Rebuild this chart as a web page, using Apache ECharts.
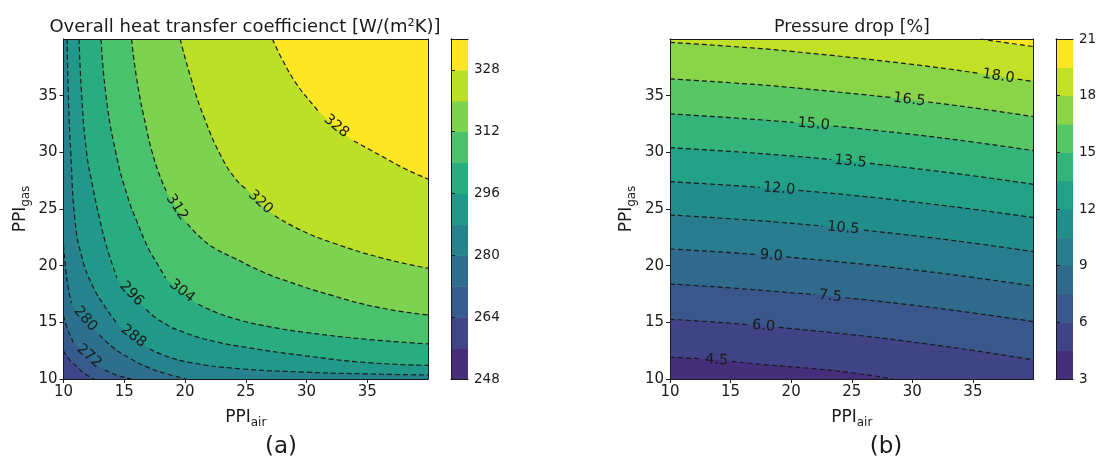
<!DOCTYPE html>
<html>
<head>
<meta charset="utf-8">
<script src="https://cdn.jsdelivr.net/npm/echarts@6/dist/echarts.min.js"></script>
<style>
html, body { margin: 0; padding: 0; background: #fff; }
#main { width: 1106px; height: 460px; }
</style>
</head>
<body>
<div id="main"></div>
<script>
// axis ticks (PPI) shared by both panels
var ppiTicks = [10, 15, 20, 25, 30, 35];

// (a) overall heat transfer coefficient: colour band edges, colourbar ticks, contour levels
var uBands = [248, 256, 264, 272, 280, 288, 296, 304, 312, 320, 328, 336];
var uTicks = [248, 264, 280, 296, 312, 328];
var uLevels = [264, 272, 280, 288, 296, 304, 312, 320, 328];
// contour lines as [PPI_air, PPI_gas]; null = gap where the label sits
var uCurves = [
    [[10, 12.5], [10.5, 11.7], [11.1, 11.1], [11.7, 10.5], [12.5, 10]],
    [[10, 15.6], [10.3, 14.5], [10.8, 13.25], null, [13.4, 10.8], [14.5, 10.3], [15.6, 10]],
    [[10, 21.8], [10.2, 19.5], [10.4, 18], [10.65, 16.7], null, [12.95, 13.9], [14, 12.85], [15.5, 11.8], [17, 11.0], [18.5, 10.45], [20.1, 10]],
    [[10.3, 40], [10.4, 35], [10.6, 30], [10.95, 24], [11.5, 20.8], [12.4, 18.2], [13.4, 16.4], [14.4, 14.9], null, [17.1, 12.65], [18.5, 12.0], [20.5, 11.45], [24, 10.95], [30, 10.6], [35, 10.45], [40, 10.35]],
    [[11.28, 40], [11.5, 35], [11.9, 30], [12.4, 27], [13.0, 24], [13.6, 21.5], [14.4, 18.9], null, [16.8, 16.15], [18, 15.1], [20.14, 14.03], [22.5, 13.3], [25, 12.8], [29.5, 12.1], [35, 11.45], [40, 11.2]],
    [[13.09, 40], [13.5, 35], [14.3, 30], [15.3, 26], [16.0, 24], [17.0, 21.5], [17.7, 20.2], [18.4, 18.9], null, [21.1, 16.6], [22.5, 15.9], [24.5, 15.2], [27, 14.6], [30, 14.1], [35, 13.5], [40, 13.1]],
    [[15.6, 40], [16.1, 36], [16.85, 32], [17.3, 30], [17.9, 28], [18.45, 26.6], null, [20.2, 23.7], [21.2, 22.56], [22.5, 21.5], [24, 20.7], [26.5, 19.4], [28.5, 18.6], [32, 17.4], [36, 16.3], [40, 15.65]],
    [[19.6, 40], [20.5, 36.5], [21.6, 33], [23, 29.6], [24.2, 27.6], [25.0, 26.8], null, [27.4, 24.4], [29.5, 23.15], [32.2, 22.0], [36.3, 20.65], [40, 19.77]],
    [[27.2, 40], [28.0, 38.2], [29.2, 36.0], [30.6, 34.1], [31.0, 33.6], null, [33.9, 31.0], [36.3, 29.6], [38.2, 28.5], [40, 27.65]]
];

// (b) pressure drop
var dpBands = [3, 4.5, 6, 7.5, 9, 10.5, 12, 13.5, 15, 16.5, 18, 19.5, 21];
var dpTicks = [3, 6, 9, 12, 15, 18, 21];
var dpLevels = [4.5, 6, 7.5, 9, 10.5, 12, 13.5, 15, 16.5, 18, 19.5];
var dpCurves = [
    [[10, 11.92], [12.6, 11.78], null, [15.1, 11.55], [18, 11.25], [21.56, 10.94], [25, 10.55], [28.4, 10]],
    [[10, 15.27], [13, 15.07], [16.45, 14.79], null, [19, 14.55], [25, 13.91], [30, 13.26], [35, 12.52], [40, 11.68]],
    [[10, 18.38], [15, 18.04], [21.95, 17.44], null, [24.5, 17.17], [30, 16.52], [35, 15.83], [40, 15.06]],
    [[10, 21.47], [14, 21.22], [17.1, 20.98], null, [19.6, 20.77], [25, 20.23], [30, 19.64], [35, 18.96], [40, 18.2]],
    [[10, 24.47], [15, 24.14], [19, 23.83], [22.6, 23.49], null, [26, 23.13], [30, 22.66], [35, 21.99], [40, 21.24]],
    [[10, 27.41], [14, 27.16], [17.4, 26.91], null, [20.6, 26.64], [25, 26.21], [30, 25.63], [35, 24.98], [40, 24.24]],
    [[10, 30.41], [15, 30.08], [20, 29.68], [23.3, 29.36], null, [26.5, 29.02], [30, 28.6], [35, 27.93], [40, 27.18]],
    [[10, 33.39], [15, 33.06], [20.2, 32.64], null, [23.5, 32.32], [30, 31.58], [35, 30.91], [40, 30.15]],
    [[10, 36.48], [15, 36.14], [20, 35.72], [28.2, 34.84], null, [31.3, 34.44], [35, 33.93], [40, 33.15]],
    [[10, 39.7], [15, 39.35], [20, 38.91], [30, 37.76], [35.5, 36.97], null, [38.7, 36.46], [40, 36.24]],
    [[35.6, 40], [40, 39.33]]
];

var FONT = 'DejaVu Sans';
var INK = '#1a1a1a';

// viridis colour map
var viridisStops = ['#440154', '#482576', '#414487', '#35608d', '#2a788e', '#21908c',
    '#22a884', '#43bf71', '#7ad151', '#bbdf27', '#fde725'];
function viridis(t) {
    var s = Math.max(0, Math.min(1, t)) * 10;
    var i = Math.min(9, Math.floor(s)), f = s - i;
    var a = viridisStops[i], b = viridisStops[i + 1];
    var c = [0, 1, 2].map(function (k) {
        var va = parseInt(a.substr(1 + 2 * k, 2), 16), vb = parseInt(b.substr(1 + 2 * k, 2), 16);
        return Math.round(va + (vb - va) * f);
    });
    return 'rgb(' + c.join(',') + ')';
}
// one colour per band; the dark end is lifted a little, as in the picture
function bandColors(bands) {
    var n = bands.length - 1, out = [];
    for (var k = 0; k < n; k++) {
        var u = k / (n - 1);
        out.push(viridis(u + 0.13 * (1 - u) * (1 - u)));
    }
    return out;
}
var uColors = bandColors(uBands);
var dpColors = bandColors(dpBands);

// filled bands + dashed lines + inline labels for one panel
function contourSeries(curves, levels, bands, colors, xi, yi, fmt) {
    var fills = [], lines = [], labelData = [], labelText = [];
    curves.forEach(function (c, i) {
        var pts = c.filter(function (p) { return p; });
        var last = pts[pts.length - 1];
        // line leaving through the bottom edge: the rest of the bottom lies above this level
        if (last[1] <= 10 && last[0] < 40) pts = pts.concat([[40, 10]]);
        fills.push({
            type: 'line', xAxisIndex: xi, yAxisIndex: yi, data: pts,
            smooth: 0.5, showSymbol: false, silent: true,
            lineStyle: { width: 0 },
            areaStyle: { color: colors[bands.indexOf(levels[i])], opacity: 1, origin: 'end' },
            z: 1
        });
        lines.push({
            type: 'line', xAxisIndex: xi, yAxisIndex: yi,
            data: c.map(function (p) { return p ? p : ['-', '-']; }),
            connectNulls: false, smooth: 0.5, showSymbol: false, silent: true,
            lineStyle: { color: INK, width: 1.2, type: [5, 3] },
            z: 3
        });
        var k = c.indexOf(null);
        if (k > 0) {
            labelData.push([c[k - 1][0], c[k - 1][1], c[k + 1][0], c[k + 1][1]]);
            labelText.push(fmt(levels[i]));
        }
    });
    var labels = {
        type: 'custom', xAxisIndex: xi, yAxisIndex: yi, data: labelData,
        encode: { x: [0, 2], y: [1, 3] }, silent: true, z: 4,
        renderItem: function (params, api) {
            var a = api.coord([api.value(0), api.value(1)]);
            var b = api.coord([api.value(2), api.value(3)]);
            var ang = Math.atan2(b[1] - a[1], b[0] - a[0]);
            if (ang > Math.PI / 2) ang -= Math.PI;
            if (ang < -Math.PI / 2) ang += Math.PI;
            return {
                type: 'text', x: (a[0] + b[0]) / 2, y: (a[1] + b[1]) / 2, rotation: -ang,
                style: {
                    text: labelText[params.dataIndex], fontSize: 14.5, fontFamily: FONT, fill: INK,
                    align: 'center', verticalAlign: 'middle'
                }
            };
        }
    };
    return fills.concat(lines, [labels]);
}

function colorbarSeries(bands, colors, xi, yi) {
    var data = [];
    for (var k = 0; k < bands.length - 1; k++) data.push([0, bands[k], 1, bands[k + 1]]);
    return {
        type: 'custom', xAxisIndex: xi, yAxisIndex: yi, data: data,
        encode: { x: [0, 2], y: [1, 3] }, silent: true,
        renderItem: function (params, api) {
            var p0 = api.coord([api.value(0), api.value(1)]);
            var p1 = api.coord([api.value(2), api.value(3)]);
            return {
                type: 'rect',
                shape: { x: p0[0], y: p1[1], width: p1[0] - p0[0], height: p0[1] - p1[1] + 0.5 },
                style: { fill: colors[params.dataIndex] }
            };
        }
    };
}

var axisFont = { fontSize: 15, fontFamily: FONT, color: INK };
var nameStyle = {
    fontSize: 17, fontFamily: FONT, color: INK,
    rich: { s: { fontSize: 12, fontFamily: FONT, color: INK, padding: [10, 0, 0, 0] } }
};

function ppiAxis(grid, pos, name, gap) {
    return {
        type: 'value', gridIndex: grid, position: pos, min: 10, max: 40, interval: 5,
        name: name, nameLocation: 'middle', nameGap: gap, nameTextStyle: nameStyle,
        nameRotate: pos === 'left' ? 90 : 0,
        axisLine: { show: true, lineStyle: { color: INK, width: 1 } },
        axisTick: { show: true, length: 4, customValues: ppiTicks, lineStyle: { color: INK } },
        axisLabel: Object.assign({ margin: 6, customValues: ppiTicks }, axisFont),
        splitLine: { show: false }, z: 10
    };
}
function edgeAxis(grid, pos) {
    return {
        type: 'value', gridIndex: grid, position: pos, min: 0, max: 1,
        axisLine: { show: true, onZero: false, lineStyle: { color: INK, width: 1 } },
        axisTick: { show: false }, axisLabel: { show: false }, splitLine: { show: false }, z: 10
    };
}
function barAxis(grid, bands, ticks) {
    return {
        type: 'value', gridIndex: grid, position: 'right',
        min: bands[0], max: bands[bands.length - 1],
        axisLine: { show: true, lineStyle: { color: INK, width: 1 } },
        axisTick: { show: true, length: 4, customValues: ticks, lineStyle: { color: INK } },
        axisLabel: { margin: 6, customValues: ticks, fontSize: 13.5, fontFamily: FONT, color: INK },
        splitLine: { show: false }, z: 10
    };
}

var chart = echarts.init(document.getElementById('main'), null, { renderer: 'canvas' });

var option = {
    animation: false,
    backgroundColor: '#fff',
    title: [
        { text: 'Overall heat transfer coefficienct [W/(m²K)]', left: 240, top: 13, textAlign: 'center',
          textStyle: { fontSize: 18, fontWeight: 'normal', fontFamily: FONT, color: INK } },
        { text: 'Pressure drop [%]', left: 847, top: 13, textAlign: 'center',
          textStyle: { fontSize: 17.5, fontWeight: 'normal', fontFamily: FONT, color: INK } },
        { text: '(a)', left: 276, top: 431, textAlign: 'center',
          textStyle: { fontSize: 23, fontWeight: 'normal', fontFamily: FONT, color: INK } },
        { text: '(b)', left: 881, top: 431, textAlign: 'center',
          textStyle: { fontSize: 23, fontWeight: 'normal', fontFamily: FONT, color: INK } }
    ],
    grid: [
        { left: 63.5, top: 39, width: 364.5, height: 340, show: true, borderWidth: 0,
          backgroundColor: uColors[uBands.indexOf(uLevels[0]) - 1] },
        { left: 670, top: 39, width: 363.5, height: 340, show: true, borderWidth: 0,
          backgroundColor: dpColors[dpBands.indexOf(dpLevels[0]) - 1] },
        { left: 451, top: 39, width: 17, height: 340 },
        { left: 1056, top: 39, width: 17, height: 340 }
    ],
    xAxis: [
        ppiAxis(0, 'bottom', 'PPI{s|air}', 28),
        edgeAxis(0, 'top'),
        ppiAxis(1, 'bottom', 'PPI{s|air}', 28),
        edgeAxis(1, 'top'),
        edgeAxis(2, 'bottom'),
        edgeAxis(2, 'top'),
        edgeAxis(3, 'bottom'),
        edgeAxis(3, 'top')
    ],
    yAxis: [
        ppiAxis(0, 'left', 'PPI{s|gas}', 32),
        edgeAxis(0, 'right'),
        ppiAxis(1, 'left', 'PPI{s|gas}', 32),
        edgeAxis(1, 'right'),
        edgeAxis(2, 'left'),
        barAxis(2, uBands, uTicks),
        edgeAxis(3, 'left'),
        barAxis(3, dpBands, dpTicks)
    ],
    series: []
        .concat(contourSeries(uCurves, uLevels, uBands, uColors, 0, 0, function (v) { return String(v); }))
        .concat(contourSeries(dpCurves, dpLevels, dpBands, dpColors, 2, 2, function (v) { return v.toFixed(1); }))
        .concat([colorbarSeries(uBands, uColors, 4, 5), colorbarSeries(dpBands, dpColors, 6, 7)])
};

chart.setOption(option);
</script>
</body>
</html>
